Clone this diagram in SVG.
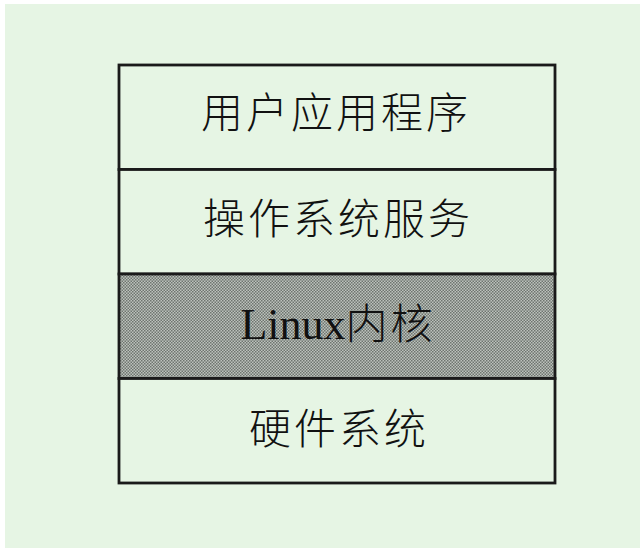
<svg xmlns="http://www.w3.org/2000/svg" width="640" height="548" viewBox="0 0 640 548">
<defs>
<pattern id="dots" width="3" height="3" patternUnits="userSpaceOnUse">
<rect width="3" height="3" fill="#bcc2bc"/>
<rect x="0" y="0" width="1.5" height="1.5" fill="#6e756f"/>
<rect x="1.5" y="1.5" width="1.5" height="1.5" fill="#6e756f"/>
</pattern>
<style>
.layer{fill:#e6f5e4;stroke:#1a1a1a;stroke-width:2.8}
.lbl{font-family:"Noto Sans CJK SC","Liberation Serif",serif;font-size:42px;font-weight:300;fill:#111;text-anchor:middle;letter-spacing:3px}
.lat{font-family:"Liberation Serif",serif;letter-spacing:0}
</style>
</defs>
<rect width="640" height="548" fill="#ffffff"/>
<rect x="5" y="4" width="635" height="544" fill="#e6f5e4"/>
<g id="app">
<rect class="layer" x="119" y="65" width="436" height="104.5"/>
<text class="lbl" x="336" y="128">用户应用程序</text>
</g>
<g id="os-services">
<rect class="layer" x="119" y="169.5" width="436" height="104.5"/>
<text class="lbl" x="338" y="234">操作系统服务</text>
</g>
<g id="kernel">
<rect class="layer" x="119" y="274" width="436" height="104.5" style="fill:url(#dots)"/>
<text class="lbl" x="338" y="339"><tspan class="lat" font-size="44">Linux</tspan>内核</text>
</g>
<g id="hardware">
<rect class="layer" x="119" y="378.5" width="436" height="104.5"/>
<text class="lbl" x="339" y="444">硬件系统</text>
</g>
<g id="connectors"/>
</svg>
